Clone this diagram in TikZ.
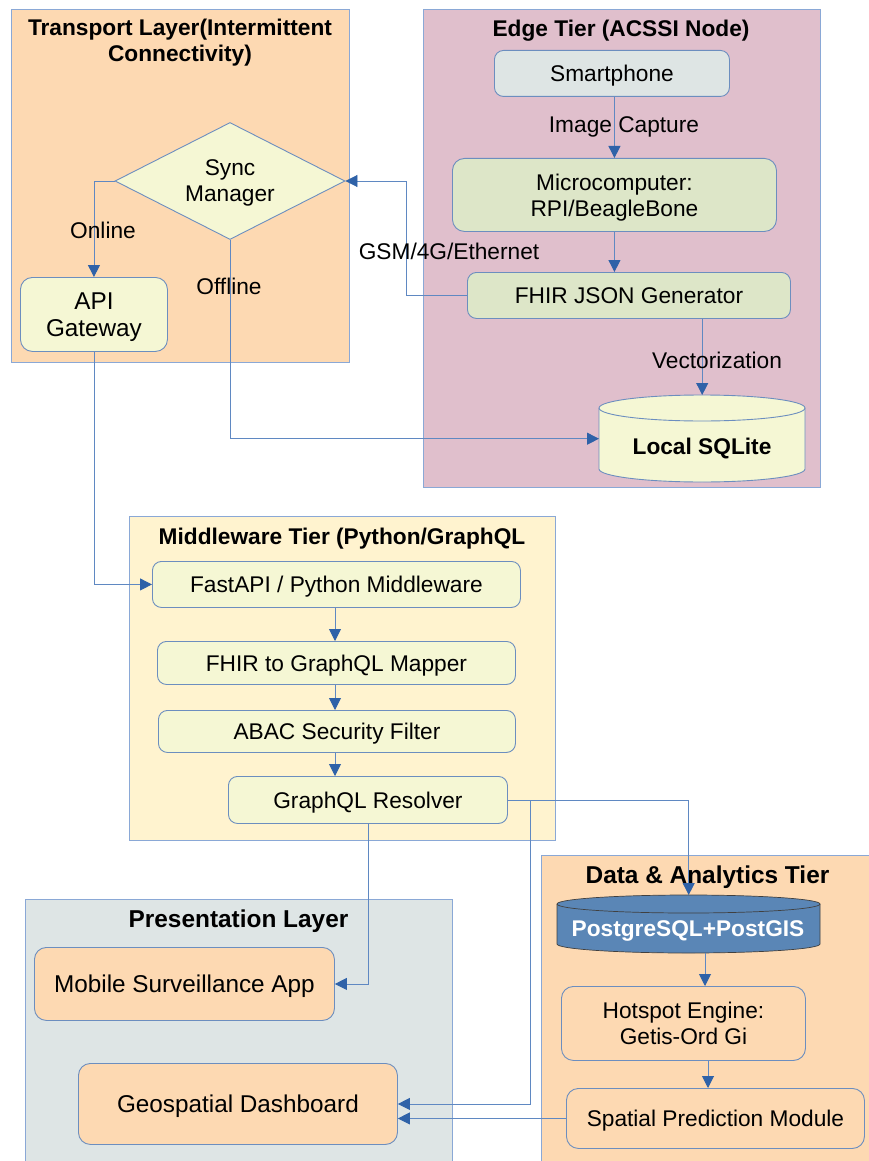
\documentclass[tikz,border=0pt]{standalone}
\usepackage{fontspec}
\setmainfont{Liberation Sans}
\usetikzlibrary{shapes.geometric,arrows.meta}
\definecolor{peach}{HTML}{FDD9B2}
\definecolor{mauve}{HTML}{E0BFCC}
\definecolor{mwfill}{HTML}{FFF3CF}
\definecolor{presfill}{HTML}{DEE5E5}
\definecolor{ylw}{HTML}{F5F7D4}
\definecolor{grn}{HTML}{DDE6C8}
\definecolor{gray1}{HTML}{DEE5E4}
\definecolor{pgblue}{HTML}{5A86B6}
\definecolor{contb}{HTML}{8AA8D6}
\definecolor{nodeb}{HTML}{6C8EBF}
\definecolor{linec}{HTML}{5F88C2}
\definecolor{arrc}{HTML}{2F62A8}
\begin{document}
\begin{tikzpicture}[x=1pt,y=-1pt,
  font=\fontsize{22.7}{26}\selectfont,
  cont/.style={draw=contb, line width=0.9pt, anchor=north west, inner sep=0pt},
  ttl/.style={font=\bfseries\fontsize{22.7}{26}\selectfont, align=center, inner sep=0pt, text depth=0pt},
  bigttl/.style={font=\bfseries\fontsize{24.4}{28}\selectfont},
  box/.style={draw=nodeb, line width=0.9pt, rounded corners=9pt, anchor=north west, inner sep=0pt, align=center, text depth=0pt},
  big/.style={font=\fontsize{24.3}{27}\selectfont},
  lbl/.style={inner sep=0pt, text depth=0pt},
  arr/.style={draw=linec, line width=0.9pt, -{Triangle[length=12pt,width=12pt,color=arrc]}},
  ln/.style={draw=linec, line width=0.9pt}
]
\useasboundingbox (0,0) rectangle (869,1161);
\fill[white] (0,0) rectangle (869,1161);

% containers
\node[cont, fill=peach, minimum width=338pt, minimum height=353pt] (transport) at (11,9) {};
\node[ttl] (ttitle) at (180,40) {Transport Layer(Intermittent\\Connectivity)};
\node[cont, fill=mauve, minimum width=397pt, minimum height=478pt] (edge) at (423,9) {};
\node[ttl] (etitle) at (621,28) {Edge Tier (ACSSI Node)};
\node[cont, fill=mwfill, minimum width=426pt, minimum height=324pt] (mw) at (129,516) {};
\node[ttl] (mtitle) at (342,536) {Middleware Tier (Python/GraphQL};
\node[cont, fill=presfill, minimum width=427pt, minimum height=290pt] (pres) at (25,899) {};
\node[ttl, bigttl] (ptitle) at (238.5,919) {Presentation Layer};
\node[cont, fill=peach, minimum width=345pt, minimum height=320pt] (data) at (541,855) {};
\node[ttl, bigttl] (dtitle) at (707.5,875) {Data \& Analytics Tier};

% transport nodes
\node[diamond, draw=nodeb, line width=0.9pt, fill=ylw, aspect=1.97, minimum width=230pt, minimum height=117pt, inner sep=0pt, align=center, text depth=0pt] (sync) at (230,181) {Sync\\Manager};
\node[box, big, fill=ylw, minimum width=147pt, minimum height=74pt, rounded corners=12pt] (api) at (20,277) {API\\Gateway};

% edge nodes
\node[box, fill=gray1, minimum width=235pt, minimum height=46pt] (smart) at (494,50) {Smartphone};
\node[box, fill=grn, minimum width=324pt, minimum height=73pt, rounded corners=12pt] (micro) at (452,158) {Microcomputer:\\RPI/BeagleBone};
\node[box, fill=grn, minimum width=323pt, minimum height=46pt] (fhir) at (467,272) {FHIR JSON Generator};
\path[draw=nodeb, line width=0.9pt, fill=ylw] (599,408) -- (599,469) arc[start angle=180, end angle=0, x radius=103, y radius=13] -- (805,408) arc[start angle=0, end angle=-180, x radius=103, y radius=13] -- cycle;
\draw[nodeb, line width=0.9pt] (599,408) arc[start angle=180, end angle=0, x radius=103, y radius=13];
\node[minimum width=206pt, minimum height=87pt, anchor=north west, inner sep=0pt] (sqlite) at (599,395) {};
\node[lbl, font=\bfseries\fontsize{22.7}{26}\selectfont] (sqlitetxt) at (702,446) {Local SQLite};

% middleware nodes
\node[box, fill=ylw, minimum width=368pt, minimum height=46pt] (fastapi) at (152,561) {FastAPI / Python Middleware};
\node[box, fill=ylw, minimum width=358pt, minimum height=43pt] (mapper) at (157,641) {FHIR to GraphQL Mapper};
\node[box, fill=ylw, minimum width=357pt, minimum height=42pt] (abac) at (158,710) {ABAC Security Filter};
\node[box, fill=ylw, minimum width=279pt, minimum height=47pt] (resolver) at (228,776) {GraphQL Resolver};

% presentation nodes
\node[box, big, fill=peach, minimum width=300pt, minimum height=73pt, rounded corners=12pt] (mobile) at (34,947) {Mobile Surveillance App};
\node[box, big, fill=peach, minimum width=319pt, minimum height=81pt, rounded corners=12pt] (dash) at (78,1063) {Geospatial Dashboard};

% data nodes
\path[draw=black!75, line width=0.7pt, fill=pgblue] (557,904) -- (557,944) arc[start angle=180, end angle=0, x radius=131.5, y radius=9] -- (820,904) arc[start angle=0, end angle=-180, x radius=131.5, y radius=9] -- cycle;
\draw[black!75, line width=0.7pt] (557,904) arc[start angle=180, end angle=0, x radius=131.5, y radius=9];
\node[minimum width=263pt, minimum height=58pt, anchor=north west, inner sep=0pt] (pg) at (557,895) {};
\node[lbl, text=white, font=\bfseries\fontsize{22.7}{26}\selectfont] (pgtxt) at (688,929) {PostgreSQL+PostGIS};
\node[box, fill=peach, minimum width=244pt, minimum height=74pt, rounded corners=12pt] (hot) at (561,986) {Hotspot Engine:\\Getis-Ord Gi};
\node[box, fill=peach, minimum width=298pt, minimum height=60pt, rounded corners=12pt] (spm) at (566,1088) {Spatial Prediction Module};

% helper coordinates
\coordinate (x530) at (530,0);
\coordinate (x705) at (705,0);
\coordinate (x708) at (708,0);
\coordinate (x406) at (406,0);
\coordinate (x368) at (368,0);
\coordinate (x335) at (335,0);

% connectors
\draw[arr] (sync.west) -| (api.north);
\draw[arr] (sync.south) |- (sqlite.west);
\draw[arr] (fhir.west) -- (fhir.west -| x406) |- (sync.east);
\draw[arr] (micro.north |- smart.south) -- (micro.north);
\draw[arr] (micro.south) -- (micro.south |- fhir.north);
\draw[arr] (sqlite.north |- fhir.south) -- (sqlite.north);
\draw[arr] (api.south) |- (fastapi.west);
\draw[arr] (fastapi.south -| x335) -- (mapper.north -| x335);
\draw[arr] (mapper.south -| x335) -- (abac.north -| x335);
\draw[arr] (abac.south -| x335) -- (resolver.north -| x335);
\draw[arr] (resolver.east) -| (pg.north);
\draw[arr] (resolver.east) -- (resolver.east -| x530) |- (dash.east);
\draw[arr] (resolver.south -| x368) |- (mobile.east);
\draw[arr] (pg.south -| x705) -- (hot.north -| x705);
\draw[arr] (hot.south -| x708) -- (spm.north -| x708);
\draw[arr] (spm.west) -- (spm.west -| dash.east);

% labels
\node[lbl] (online) at (103,230) {Online};
\node[lbl] (offline) at (229,286) {Offline};
\node[lbl] (gsm) at (449,251) {GSM/4G/Ethernet};
\node[lbl] (imgcap) at (624,125) {Image Capture};
\node[lbl] (vect) at (717,360) {Vectorization};
\end{tikzpicture}
\end{document}
